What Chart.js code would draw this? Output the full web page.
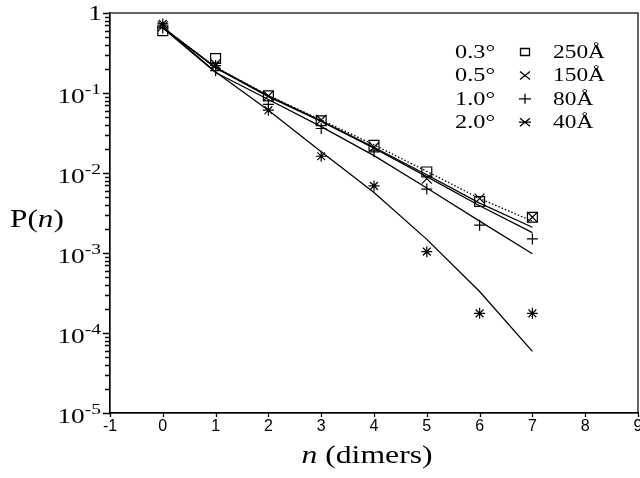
<!DOCTYPE html>
<html>
<head>
<meta charset="utf-8">
<script src="https://cdn.jsdelivr.net/npm/chart.js@4"></script>
<style>
  html, body { margin: 0; padding: 0; background: #fff; }
  #wrap { width: 640px; height: 478px; }
</style>
</head>
<body>
<div id="wrap"><canvas id="dimerChart" width="640" height="478"></canvas></div>
<script>
// number of dimers in a row
const nValues = [0, 1, 2, 3, 4, 5, 6, 7];

// measured probabilities, one list per miscut
const meas250 = [0.60, 0.27, 0.092, 0.045, 0.0222, 0.0103, 0.0044, 0.0028];
const meas150 = [0.68, 0.23, 0.092, 0.046, 0.021, 0.0085, 0.0048, 0.0028];
const meas80 = [0.65, 0.19, 0.072, 0.036, 0.0184, 0.0063, 0.00223, 0.0015];
const meas40 = [0.73, 0.22, 0.061, 0.0162, 0.0069, 0.00104, 0.000176, 0.000176];

// model curves
const fit250 = [0.66, 0.21, 0.093, 0.046, 0.0225, 0.0105, 0.0048, 0.0025];
const fit150 = [0.66, 0.21, 0.092, 0.045, 0.021, 0.0095, 0.0042, 0.0021];
const fit150b = [0.66, 0.205, 0.09, 0.044, 0.0205, 0.009, 0.0039, 0.0018];
const fit80 = [0.65, 0.18, 0.083, 0.038, 0.0165, 0.0065, 0.0025, 0.00098];
const fit40 = [0.67, 0.183, 0.061, 0.0184, 0.0057, 0.00148, 0.00033, 0.000059];

// legend rows: angle, marker, terrace width
const legendAngles = ["0.3°", "0.5°", "1.0°", "2.0°"];
const legendWidths = ["250Å", "150Å", "80Å", "40Å"];
const legendMarkers = ["rect", "crossRot", "cross", "star"];

// decades labelled on the P(n) axis
const yDecades = [0, -1, -2, -3, -4, -5];

const SERIF = '"Liberation Serif", "Times New Roman", serif';
const SANS = '"Liberation Sans", Arial, sans-serif';
// the serif lettering is set a little wide
const WIDE = 1.3;

function pairs(ys) {
    return nValues.map((n, i) => ({ x: n, y: ys[i] }));
}

function pointSet(label, ys, style, radius) {
    return {
        label: label,
        data: pairs(ys),
        showLine: false,
        pointStyle: style,
        pointRadius: radius,
        pointBorderWidth: 1.2,
        borderColor: "#000",
        backgroundColor: "rgba(0,0,0,0)"
    };
}

function lineSet(label, ys, dash) {
    return {
        label: label,
        data: pairs(ys),
        showLine: true,
        borderColor: "#000",
        borderWidth: 1.3,
        borderDash: dash || [],
        pointRadius: 0,
        tension: 0,
        fill: false
    };
}

// fillText with horizontal stretch, returns the drawn width
function wideText(ctx, text, x, y, align, sx) {
    const w = ctx.measureText(text).width * sx;
    let left = x;
    if (align === "right") left = x - w;
    if (align === "center") left = x - w / 2;
    ctx.save();
    ctx.translate(left, y);
    ctx.scale(sx, 1);
    ctx.textAlign = "left";
    ctx.fillText(text, 0, 0);
    ctx.restore();
    return w;
}

// small legend glyphs, drawn by hand
function legendMark(ctx, kind, x, y) {
    const rx = 5, ry = 4;
    ctx.beginPath();
    if (kind === "rect") {
        ctx.rect(x - rx + 0.5, y - ry + 0.5, 2 * rx - 1, 2 * ry - 1);
    }
    if (kind === "crossRot" || kind === "star") {
        ctx.moveTo(x - rx, y - ry); ctx.lineTo(x + rx, y + ry);
        ctx.moveTo(x - rx, y + ry); ctx.lineTo(x + rx, y - ry);
    }
    if (kind === "cross" || kind === "star") {
        ctx.moveTo(x - rx - 1, y); ctx.lineTo(x + rx + 1, y);
        if (kind === "cross") { ctx.moveTo(x, y - ry - 1); ctx.lineTo(x, y + ry + 1); }
    }
    ctx.stroke();
}

const decorPlugin = {
    id: "decor",
    afterDraw(chart) {
        const ctx = chart.ctx;
        const area = chart.chartArea;
        const xScale = chart.scales.x;
        const yScale = chart.scales.y;
        ctx.save();
        ctx.strokeStyle = "#000";
        ctx.fillStyle = "#000";

        // frame round the plot
        ctx.lineWidth = 1.2;
        ctx.strokeRect(area.left, area.top, area.right - area.left, area.bottom - area.top);

        // tick marks, outside the frame
        ctx.lineWidth = 1.3;
        ctx.beginPath();
        yScale.ticks.forEach(t => {
            const py = Math.round(yScale.getPixelForValue(t.value)) + 0.5;
            const len = t.major ? 7 : 5;
            ctx.moveTo(area.left - len, py);
            ctx.lineTo(area.left, py);
        });
        xScale.ticks.forEach(t => {
            const px = Math.round(xScale.getPixelForValue(t.value)) + 0.5;
            ctx.moveTo(px, area.bottom);
            ctx.lineTo(px, area.bottom + 4);
        });
        ctx.stroke();

        // decade labels: 1, 10^-1 ... 10^-5
        ctx.textBaseline = "alphabetic";
        yDecades.forEach(e => {
            const py = yScale.getPixelForValue(Math.pow(10, e));
            if (e === 0) {
                ctx.font = "21px " + SERIF;
                wideText(ctx, "1", 102, py + 7, "right", WIDE);
                return;
            }
            ctx.font = "15px " + SERIF;
            const supW = wideText(ctx, String(e), 101, py + 1, "right", WIDE);
            ctx.font = "21px " + SERIF;
            wideText(ctx, "10", 101 - supW, py + 10, "right", WIDE);
        });

        // P(n) axis title
        const tx = 10, ty = 227;
        let w = 0;
        ctx.font = "25px " + SERIF;
        w += wideText(ctx, "P(", tx, ty, "left", 1.25);
        ctx.font = "italic 25px " + SERIF;
        w += wideText(ctx, "n", tx + w, ty, "left", 1.25);
        ctx.font = "25px " + SERIF;
        wideText(ctx, ")", tx + w, ty, "left", 1.25);

        // n (dimers) axis title
        ctx.font = "italic 26px " + SERIF;
        const nW = ctx.measureText("n").width * 1.22;
        ctx.font = "26px " + SERIF;
        const restW = ctx.measureText(" (dimers)").width * 1.22;
        const startX = 367 - (nW + restW) / 2;
        ctx.font = "italic 26px " + SERIF;
        wideText(ctx, "n", startX, 463, "left", 1.22);
        ctx.font = "26px " + SERIF;
        wideText(ctx, " (dimers)", startX + nW, 463, "left", 1.22);

        // legend
        legendAngles.forEach((a, i) => {
            const by = 58 + i * 23.4;
            ctx.font = "18px " + SERIF;
            wideText(ctx, a, 455, by, "left", 1.35);
            wideText(ctx, legendWidths[i], 553, by, "left", WIDE);
            legendMark(ctx, legendMarkers[i], 525, by - 6);
        });
        ctx.restore();
    }
};

const ctx = document.getElementById("dimerChart").getContext("2d");

new Chart(ctx, {
    type: "scatter",
    data: {
        datasets: [
            lineSet("fit 250", fit250, [1.5, 2]),
            lineSet("fit 150", fit150),
            lineSet("fit 150b", fit150b),
            lineSet("fit 80", fit80),
            lineSet("fit 40", fit40),
            pointSet("0.3° 250Å", meas250, "rect", 7),
            pointSet("0.5° 150Å", meas150, "crossRot", 7),
            pointSet("1.0° 80Å", meas80, "cross", 5.5),
            pointSet("2.0° 40Å", meas40, "star", 5.5)
        ]
    },
    options: {
        responsive: false,
        animation: false,
        layout: {
            autoPadding: false,
            padding: { top: 13, right: 2, left: 0, bottom: 0 }
        },
        plugins: {
            legend: { display: false },
            tooltip: { enabled: false }
        },
        scales: {
            x: {
                type: "linear",
                min: -1,
                max: 9,
                grid: { display: false, drawTicks: false },
                border: { color: "#000", width: 1.2 },
                ticks: {
                    stepSize: 1,
                    padding: 4,
                    color: "#000",
                    font: { family: SANS, size: 16 }
                },
                afterFit(scale) {
                    scale.height = 65;
                    scale.paddingLeft = 0;
                    scale.paddingRight = 0;
                }
            },
            y: {
                type: "logarithmic",
                min: 1e-5,
                max: 1,
                grid: { display: false, drawTicks: false },
                border: { color: "#000", width: 1.2 },
                ticks: {
                    autoSkip: false,
                    callback: () => ""
                },
                afterBuildTicks(scale) {
                    const ticks = [];
                    yDecades.forEach(e => {
                        const base = Math.pow(10, e);
                        ticks.push({ value: base, major: true });
                        if (e > -5) {
                            for (let k = 2; k <= 9; k++) ticks.push({ value: k * base / 10, major: false });
                        }
                    });
                    scale.ticks = ticks;
                },
                afterFit(scale) {
                    scale.width = 110;
                    scale.paddingTop = 0;
                    scale.paddingBottom = 0;
                }
            }
        }
    },
    plugins: [decorPlugin]
});
</script>
</body>
</html>
